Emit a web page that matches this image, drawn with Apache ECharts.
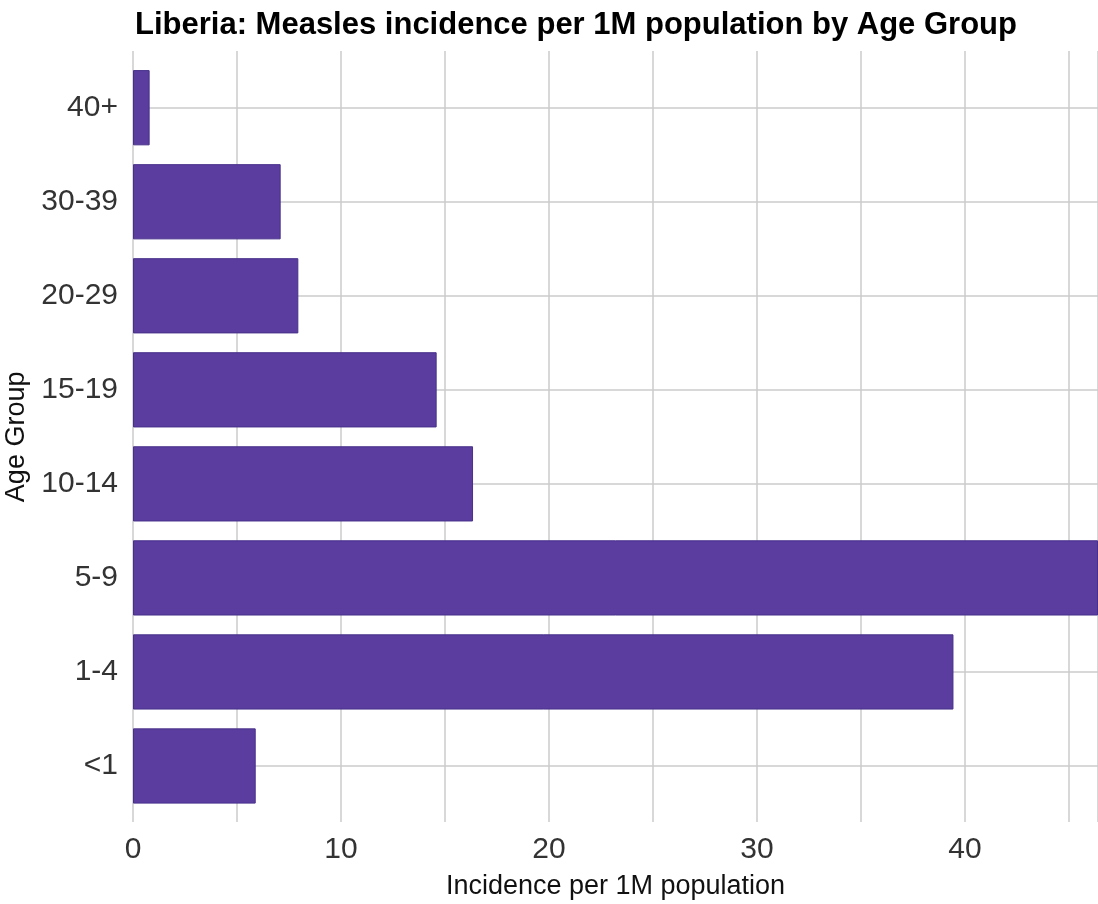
<!DOCTYPE html>
<html>
<head>
<meta charset="utf-8">
<script src="https://cdn.jsdelivr.net/npm/echarts@6/dist/echarts.min.js"></script>
<style>
html,body{margin:0;padding:0;background:#fff;}
#chart{width:1098px;height:904px;}
</style>
</head>
<body>
<div id="chart"></div>
<script>
// Data (bottom to top as ECharts category y-axis runs upward)
var ageGroups = ['<1', '1-4', '5-9', '10-14', '15-19', '20-29', '30-39', '40+'];
var incidence = [5.9, 39.45, 46.4, 16.35, 14.6, 7.95, 7.1, 0.8];
var xMax = 46.4;
var titleText = 'Liberia: Measles incidence per 1M population by Age Group';
var xTitle = 'Incidence per 1M population';
var yTitle = 'Age Group';

var font = '"Liberation Sans", Arial, Helvetica, sans-serif';
var gridColor = '#cbcbcb';

var chart = echarts.init(document.getElementById('chart'), null, {renderer: 'canvas'});
chart.setOption({
  backgroundColor: '#ffffff',
  animation: false,
  title: {
    text: titleText,
    left: 130,
    top: 5,
    textStyle: {fontFamily: font, fontWeight: 'bold', fontSize: 31, color: '#000'}
  },
  grid: [
    {left: 133, right: 0, top: 51, bottom: 82, outerBoundsMode: 'none', containLabel: false},
    {left: 133, right: 0, top: 107.7, bottom: 138, outerBoundsMode: 'none', containLabel: false},
    {left: 133, right: 0, top: 60.7, bottom: 91, outerBoundsMode: 'none', containLabel: false}
  ],
  xAxis: [
    {
      gridIndex: 0, type: 'value', min: 0, max: xMax, interval: 5,
      axisLine: {show: false}, axisTick: {show: false},
      splitLine: {show: true, lineStyle: {color: gridColor, width: 1.5}},
      axisLabel: {
        fontFamily: font, fontSize: 30, color: '#333', margin: 13,
        formatter: function (v) { return v % 10 === 0 ? String(v) : ''; }
      },
      name: xTitle, nameLocation: 'middle', nameGap: 51,
      nameTextStyle: {fontFamily: font, fontSize: 27, color: '#111'}
    },
    {gridIndex: 1, type: 'value', min: 0, max: xMax, show: false},
    {gridIndex: 2, type: 'value', min: 0, max: xMax, show: false}
  ],
  yAxis: [
    {gridIndex: 0, type: 'value', min: 0, max: 1, show: false},
    {
      gridIndex: 1, type: 'category', data: ageGroups, boundaryGap: false,
      axisLine: {show: false}, axisTick: {show: false}, axisLabel: {show: false},
      splitLine: {show: true, lineStyle: {color: gridColor, width: 1.5}}
    },
    {
      gridIndex: 2, type: 'category', data: ageGroups,
      axisLine: {show: false}, axisTick: {show: false},
      splitLine: {show: false},
      axisLabel: {fontFamily: font, fontSize: 30, color: '#333', margin: 15},
      name: yTitle, nameLocation: 'middle', nameGap: 96, nameRotate: 90,
      nameTextStyle: {fontFamily: font, fontSize: 27, color: '#111'}
    }
  ],
  series: [
    {
      type: 'bar', xAxisIndex: 2, yAxisIndex: 2, data: incidence,
      barWidth: '80%',
      itemStyle: {color: '#5a3d9f', borderColor: '#47308a', borderWidth: 1},
      z: 5
    }
  ]
});
</script>
</body>
</html>
